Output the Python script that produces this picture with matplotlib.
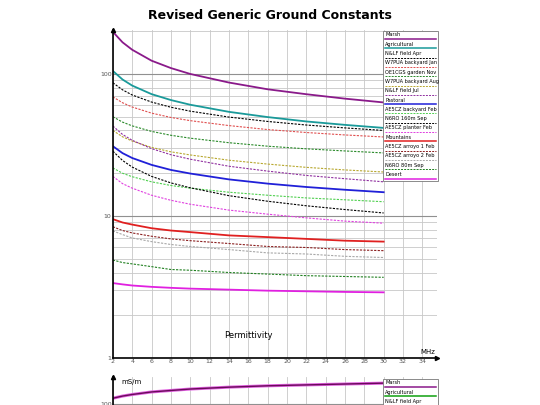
import matplotlib
matplotlib.use('Agg')
import matplotlib.pyplot as plt
from matplotlib.patches import Rectangle

# frequency points (MHz)
freq = [2, 3, 4, 6, 8, 10, 14, 18, 22, 26, 30]

# permittivity curves
names = ['Marsh', 'Agricultural', 'N&LF field Apr', 'W7PUA backyard Jan',
         'OE1CGS garden Nov', 'W7PUA backyard Aug', 'N&LF field Jul', 'Pastoral',
         'AE5CZ backyard Feb', 'N6RO 160m Sep', 'AE5CZ planter Feb', 'Mountains',
         'AE5CZ arroyo 1 Feb', 'AE5CZ arroyo 2 Feb', 'N6RO 80m Sep', 'Desert']
perm = [
    [198, 167, 148, 124, 110, 100, 87, 78, 72, 67, 63],
    [105, 91.4, 82.8, 72.1, 65.5, 60.7, 54.1, 49.7, 46.3, 43.8, 41.7],
    [86.7, 77.3, 71.1, 63.4, 58.3, 54.7, 49.7, 46.3, 43.7, 41.7, 40.0],
    [69, 62.7, 58.5, 53.0, 49.4, 46.9, 43.3, 40.6, 38.7, 37.2, 36.0],
    [50, 45.8, 43.1, 39.4, 37.0, 35.3, 32.8, 31.0, 29.7, 28.7, 27.8],
    [40, 36.1, 33.7, 30.4, 28.3, 26.9, 24.7, 23.2, 22.0, 21.1, 20.4],
    [43, 37.5, 34.1, 29.8, 27.0, 25.1, 22.4, 20.7, 19.3, 18.3, 17.4],
    [31, 27.7, 25.6, 22.9, 21.1, 19.9, 18.1, 16.9, 16.0, 15.3, 14.7],
    [21.8, 20.0, 18.9, 17.4, 16.4, 15.7, 14.7, 14.0, 13.4, 13.0, 12.6],
    [28.6, 24.6, 22.1, 19.0, 17.1, 15.8, 13.9, 12.7, 11.8, 11.1, 10.5],
    [19, 16.9, 15.7, 14.0, 12.9, 12.1, 11.0, 10.3, 9.7, 9.2, 8.9],
    [9.5, 9.0, 8.7, 8.2, 7.9, 7.7, 7.3, 7.1, 6.9, 6.7, 6.6],
    [8.4, 7.9, 7.6, 7.2, 6.9, 6.7, 6.4, 6.1, 6.0, 5.8, 5.7],
    [7.85, 7.4, 7.0, 6.6, 6.3, 6.1, 5.8, 5.5, 5.4, 5.2, 5.1],
    [4.9, 4.7, 4.6, 4.4, 4.2, 4.15, 4.0, 3.9, 3.8, 3.75, 3.7],
    [3.37, 3.3, 3.24, 3.17, 3.12, 3.08, 3.03, 2.98, 2.95, 2.92, 2.9],
]
# conductivity (mS/m), only the top of this panel is visible
marsh_cond = [110, 114, 117, 122, 125, 128, 132, 135, 137, 139, 141]

colors = ['#8a1a8a', '#1a9a9a', 'black', '#e05050', '#2a8a2a', '#b8a830',
          '#9030a0', '#2020d8', '#50d050', 'black', '#e040e0', '#e02020',
          '#8b2020', '#a8a8a8', '#208020', '#e020e0']
solid = {'Marsh', 'Agricultural', 'Pastoral', 'Mountains', 'Desert'}

fig = plt.figure(figsize=(5.4, 4.05), dpi=100)
fig.text(0.5, 0.962, 'Revised Generic Ground Constants', ha='center', va='center',
         fontsize=9, fontweight='bold')

def style_axes(ax):
    ax.set_yscale('log')
    ax.set_xlim(2, 35.5)
    ax.set_xticks(range(2, 35, 2))
    ax.grid(True, which='both', color='#c8c8c8', lw=0.6)
    ax.grid(True, which='major', axis='y', color='#909090', lw=0.8)
    for s in ['top', 'right']:
        ax.spines[s].set_visible(False)
    ax.tick_params(which='both', length=0, labelsize=4.5, colors='#555555', pad=1)
    ax.spines['left'].set_lw(1.2)
    ax.spines['bottom'].set_lw(1.2)

ax = fig.add_axes([0.209, 0.116, 0.6, 0.81])
style_axes(ax)
ax.set_ylim(1, 204)
ax.set_yticks([1, 10, 100])
ax.set_yticklabels(['1', '10', '100'])
for n, v, c in zip(names, perm, colors):
    lw = 1.3 if n in solid else 0.8
    ls = '-' if n in solid else (0, (2, 1.2))
    ax.plot(freq, v, color=c, lw=lw, ls=ls)
ax.text(16, 1.45, 'Permittivity', ha='center', va='center', fontsize=6)
ax.text(35.3, 1.05, 'MHz', ha='right', va='bottom', fontsize=5)
ax.plot(35.5, 1, marker='>', color='black', ms=3, clip_on=False)
ax.plot(2, 204, marker='^', color='black', ms=3, clip_on=False)

ax2 = fig.add_axes([0.209, -0.689, 0.6, 1 - 377 / 405 + 0.689])
style_axes(ax2)
ax2.set_ylim(1, 156)
ax2.set_yticks([100])
ax2.set_yticklabels(['100'])
ax2.set_xticklabels([])
ax2.plot(freq, marsh_cond, color='#e060e0', lw=2.2)
ax2.plot(freq, marsh_cond, color='#6a0a5a', lw=1.0)
ax2.text(2.9, 150, 'mS/m', fontsize=5, va='top')
ax2.plot(2, 156, marker='^', color='black', ms=3, clip_on=False)

# legend boxes drawn in figure pixels
def legend_box(entries, top_px, bottom_px):
    x0, x1 = 383 / 540, 438 / 540
    fig.patches.append(Rectangle((x0, 1 - bottom_px / 405), x1 - x0,
                                 (bottom_px - top_px) / 405, transform=fig.transFigure,
                                 fc='white', ec='#777777', lw=0.6, zorder=5))
    step = 9.3
    for i, (n, c) in enumerate(entries):
        y = top_px + 4 + i * step
        fig.text(x0 + 0.004, 1 - y / 405, n, fontsize=3.6, va='center', zorder=6)
        ls = '-' if n in solid else (0, (2, 1.2))
        fig.add_artist(plt.Line2D([x0 + 0.003, x1 - 0.003], [1 - (y + 4) / 405] * 2,
                                  color=c, lw=1.1 if n in solid else 0.7, ls=ls,
                                  transform=fig.transFigure, zorder=6))

legend_box(list(zip(names, colors))[:15] + [(names[15], colors[15])], 31, 181)
legend_box([('Marsh', '#8a1a8a'), ('Agricultural', '#10a010'), ('N&LF field Apr', 'black')],
           379, 410)

fig.savefig('out.png', dpi=100)
